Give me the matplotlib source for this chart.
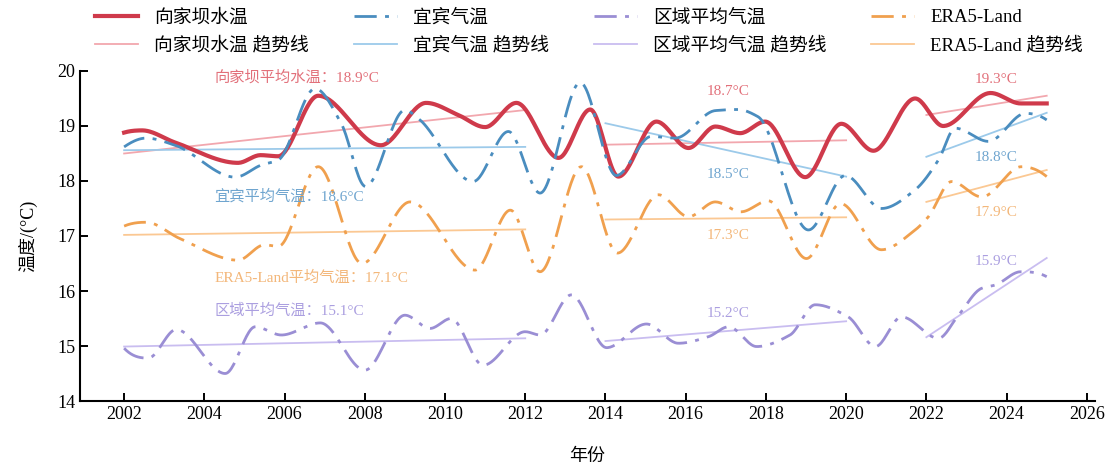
import numpy as np
import matplotlib
matplotlib.use("Agg")
import matplotlib.pyplot as plt

plt.rcParams['font.family'] = ['Liberation Serif', 'Noto Sans CJK SC', 'DejaVu Sans']
plt.rcParams['axes.unicode_minus'] = False

# ---- series: (year, temperature) points along each curve ----
dam_x = [2002.0, 2002.45, 2003.27, 2004.84, 2005.4, 2005.84, 2006.84, 2008.4, 2009.53,
         2010.33, 2011.0, 2011.78, 2012.83, 2013.62, 2014.32, 2015.27, 2016.07, 2016.74,
         2017.36, 2017.98, 2018.98, 2019.88, 2020.68, 2021.72, 2022.42, 2023.6, 2024.35, 2025.0]
dam_y = [18.88, 18.92, 18.70, 18.33, 18.47, 18.45, 19.55, 18.65, 19.42,
         19.20, 18.98, 19.42, 18.42, 19.30, 18.08, 19.08, 18.60, 18.99,
         18.87, 19.08, 18.07, 19.04, 18.55, 19.50, 19.00, 19.60, 19.41, 19.41]

yibin_x = [2002.0, 2002.55, 2003.27, 2004.77, 2005.42, 2005.84, 2006.76, 2007.41, 2008.02,
           2009.0, 2009.33, 2010.7, 2011.58, 2012.37, 2013.37, 2014.27, 2015.14, 2015.74,
           2016.74, 2017.3, 2017.8, 2019.06, 2019.98, 2020.88, 2021.72, 2022.3, 2022.72,
           2023.55, 2024.47, 2025.0]
yibin_y = [18.62, 18.78, 18.65, 18.07, 18.29, 18.38, 19.68, 19.05, 17.90,
           19.29, 19.14, 17.99, 18.90, 17.78, 19.79, 18.10, 18.81, 18.78,
           19.28, 19.30, 19.17, 17.11, 18.10, 17.50, 17.84, 18.38, 18.96,
           18.72, 19.23, 19.11]

region_x = [2002.0, 2002.6, 2003.3, 2004.52, 2005.27, 2005.92, 2006.89, 2008.0, 2009.0,
            2009.63, 2010.15, 2010.95, 2012.0, 2012.37, 2013.15, 2014.03, 2015.02, 2015.82,
            2016.57, 2017.07, 2017.77, 2018.6, 2019.23, 2020.05, 2020.73, 2021.38, 2022.3,
            2022.8, 2023.38, 2023.72, 2024.35, 2025.0]
region_y = [14.96, 14.78, 15.30, 14.50, 15.35, 15.20, 15.42, 14.56, 15.56,
            15.32, 15.50, 14.65, 15.26, 15.20, 15.93, 14.97, 15.40, 15.05,
            15.17, 15.35, 14.99, 15.20, 15.75, 15.53, 14.99, 15.53, 15.14,
            15.56, 16.05, 16.11, 16.35, 16.26]

era5_x = [2002.0, 2002.55, 2003.4, 2004.84, 2005.5, 2005.84, 2006.84, 2007.93, 2009.13,
          2010.75, 2011.63, 2012.37, 2013.4, 2014.3, 2015.32, 2016.07, 2016.74, 2017.38,
          2018.06, 2019.01, 2019.86, 2020.88, 2021.72, 2022.05, 2022.63, 2023.38, 2024.37, 2025.0]
era5_y = [17.18, 17.25, 16.95, 16.56, 16.84, 16.81, 18.26, 16.50, 17.62,
          16.38, 17.47, 16.35, 18.26, 16.69, 17.75, 17.35, 17.62, 17.44,
          17.64, 16.59, 17.59, 16.75, 17.11, 17.35, 17.99, 17.71, 18.26, 18.08]

# ---- trend segments per period: (start value, end value) ----
periods = [(2002, 2012), (2014, 2020), (2022, 2025)]
dam_trend = [(18.50, 19.29), (18.66, 18.74), (19.20, 19.55)]
yibin_trend = [(18.56, 18.62), (19.05, 18.08), (18.44, 19.24)]
region_trend = [(14.99, 15.14), (15.09, 15.45), (15.16, 16.60)]
era5_trend = [(17.02, 17.12), (17.30, 17.34), (17.62, 18.20)]

# ---- period means shown as annotations ----
dam_means = [18.9, 18.7, 19.3]
yibin_means = [18.6, 18.5, 18.8]
era5_means = [17.1, 17.3, 17.9]
region_means = [15.1, 15.2, 15.9]

series_names = ['向家坝水温', '宜宾气温', '区域平均气温', 'ERA5-Land']
first_prefix = ['向家坝平均水温：', '宜宾平均气温：', '区域平均气温：', 'ERA5-Land平均气温：']


def pchip(x, y, xs):
    """Shape-preserving piecewise cubic Hermite interpolation."""
    x = np.asarray(x, float)
    y = np.asarray(y, float)
    h = np.diff(x)
    d = np.diff(y) / h
    n = len(x)
    m = np.zeros(n)
    for k in range(1, n - 1):
        if d[k - 1] * d[k] > 0:
            w1 = 2 * h[k] + h[k - 1]
            w2 = h[k] + 2 * h[k - 1]
            m[k] = (w1 + w2) / (w1 / d[k - 1] + w2 / d[k])

    def end_slope(h0, h1, d0, d1):
        s = ((2 * h0 + h1) * d0 - h0 * d1) / (h0 + h1)
        if np.sign(s) != np.sign(d0):
            s = 0.0
        elif np.sign(d0) != np.sign(d1) and abs(s) > abs(3 * d0):
            s = 3 * d0
        return s

    m[0] = end_slope(h[0], h[1], d[0], d[1])
    m[-1] = end_slope(h[-1], h[-2], d[-1], d[-2])
    idx = np.clip(np.searchsorted(x, xs) - 1, 0, n - 2)
    t = (xs - x[idx]) / h[idx]
    h00 = 2 * t**3 - 3 * t**2 + 1
    h10 = t**3 - 2 * t**2 + t
    h01 = -2 * t**3 + 3 * t**2
    h11 = t**3 - t**2
    return h00 * y[idx] + h10 * h[idx] * m[idx] + h01 * y[idx + 1] + h11 * h[idx] * m[idx + 1]


fig = plt.figure(figsize=(11.14, 4.72), dpi=100)
ax = fig.add_axes([0.0718, 0.1504, 0.911, 0.6992])

line_colors = ['#cf3a4b', '#4a8dbf', '#9a8ed4', '#f0a04e']
trend_colors = ['#f2a7ae', '#9ccaea', '#c9bdf0', '#fbc893']
text_colors = ['#e2707a', '#6fa5cf', '#ab9fe0', '#f3b77a']
dashdot = (0, (8, 3, 1.4, 3))
styles = [dict(lw=3.0, ls='-'),
          dict(lw=2.0, ls=dashdot),
          dict(lw=2.0, ls=dashdot),
          dict(lw=2.0, ls=dashdot)]

xs_all = [dam_x, yibin_x, region_x, era5_x]
ys_all = [dam_y, yibin_y, region_y, era5_y]
trends_all = [dam_trend, yibin_trend, region_trend, era5_trend]
means_all = [dam_means, yibin_means, region_means, era5_means]

handles = []
labels = []
for i in range(4):
    xx = np.linspace(xs_all[i][0], xs_all[i][-1], 800)
    yy = pchip(xs_all[i], ys_all[i], xx)
    h1, = ax.plot(xx, yy, color=line_colors[i], zorder=3, **styles[i])
    h2 = None
    for (p0, p1), (v0, v1) in zip(periods, trends_all[i]):
        h2, = ax.plot([p0, p1], [v0, v1], color=trend_colors[i], lw=1.3, zorder=2)
    handles += [h1, h2]
    labels += [series_names[i], series_names[i] + ' 趋势线']

# annotation positions (year, temperature) for each period label
first_pos = [(2004.25, 19.89), (2004.25, 17.73), (2004.25, 15.64), (2004.25, 16.25)]
second_pos = [(2017.05, 19.62), (2017.05, 18.11), (2017.05, 15.60), (2017.05, 17.00)]
third_pos = [(2023.75, 19.84), (2023.75, 18.42), (2023.75, 16.53), (2023.75, 17.42)]

for i in range(4):
    ax.text(*first_pos[i], f'{first_prefix[i]}{means_all[i][0]:.1f}°C',
            color=text_colors[i], fontsize=11, ha='left', va='center', zorder=4)
    ax.text(*second_pos[i], f'{means_all[i][1]:.1f}°C',
            color=text_colors[i], fontsize=11, ha='center', va='center', zorder=4)
    ax.text(*third_pos[i], f'{means_all[i][2]:.1f}°C',
            color=text_colors[i], fontsize=11, ha='center', va='center', zorder=4)

ax.set_xlim(2000.9, 2026.2)
ax.set_ylim(14, 20)
ax.set_xticks(np.arange(2002, 2027, 2))
ax.set_yticks(np.arange(14, 21, 1))
for s in ['top', 'right']:
    ax.spines[s].set_visible(False)
for s in ['left', 'bottom']:
    ax.spines[s].set_linewidth(1.5)
ax.tick_params(direction='in', length=6, width=1.4, labelsize=13)
ax.set_xlabel('年份', fontsize=13, labelpad=18)
ax.set_ylabel('温度/(°C)', fontsize=13, labelpad=14)

leg = fig.legend(handles, labels, loc='upper left', bbox_to_anchor=(0.075, 1.005),
                 ncol=4, frameon=False, fontsize=13.5, handlelength=2.3,
                 columnspacing=2.4, handletextpad=0.85, labelspacing=0.55,
                 borderaxespad=0.2)

fig.savefig('out.png', dpi=100)
